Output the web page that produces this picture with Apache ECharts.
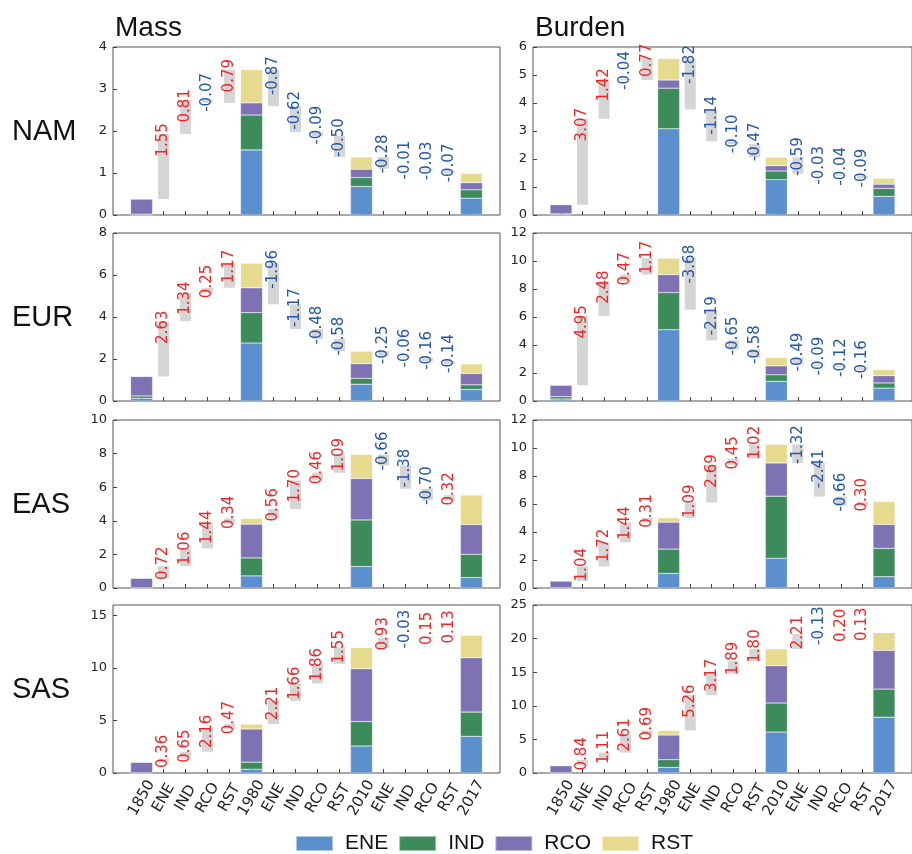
<!DOCTYPE html>
<html>
<head>
<meta charset="utf-8">
<script src="https://cdn.jsdelivr.net/npm/echarts@6/dist/echarts.min.js"></script>
<style>
  html, body { margin: 0; padding: 0; background: #fff; }
  #chart { width: 912px; height: 854px; }
</style>
</head>
<body>
<div id="chart"></div>
<script>
// categories along every x axis
var categories = ['1850','ENE','IND','RCO','RST','1980','ENE','IND','RCO','RST','2010','ENE','IND','RCO','RST','2017'];
var years = ['1850','1980','2010','2017'];
var sectors = ['ENE','IND','RCO','RST'];
var regions = ['NAM','EUR','EAS','SAS'];
var columns = ['Mass','Burden'];

// y axis ticks / limits per row
var yTicksMass   = [[0,1,2,3,4],[0,2,4,6,8],[0,2,4,6,8,10],[0,5,10,15]];
var yMaxMass     = [4, 8, 10, 16];
var yTicksBurden = [[0,1,2,3,4,5,6],[0,2,4,6,8,10,12],[0,2,4,6,8,10,12],[0,5,10,15,20,25]];
var yMaxBurden   = [6, 12, 12, 25];

// NAM - Mass  (values at 1850, 1980, 2010, 2017)
var NAM_Mass_ENE = [0.00, 1.55, 0.68, 0.40];
var NAM_Mass_IND = [0.02, 0.83, 0.21, 0.20];
var NAM_Mass_RCO = [0.36, 0.29, 0.20, 0.17];
var NAM_Mass_RST = [0.00, 0.79, 0.29, 0.22];
var NAM_Mass_chg = [1.55, 0.81, -0.07, 0.79, -0.87, -0.62, -0.09, -0.50, -0.28, -0.01, -0.03, -0.07];
// NAM - Burden
var NAM_Burden_ENE = [0.01, 3.08, 1.26, 0.67];
var NAM_Burden_IND = [0.03, 1.45, 0.31, 0.28];
var NAM_Burden_RCO = [0.33, 0.29, 0.19, 0.15];
var NAM_Burden_RST = [0.00, 0.77, 0.30, 0.21];
var NAM_Burden_chg = [3.07, 1.42, -0.04, 0.77, -1.82, -1.14, -0.10, -0.47, -0.59, -0.03, -0.04, -0.09];
// EUR - Mass
var EUR_Mass_ENE = [0.13, 2.76, 0.80, 0.55];
var EUR_Mass_IND = [0.11, 1.45, 0.28, 0.22];
var EUR_Mass_RCO = [0.93, 1.18, 0.70, 0.54];
var EUR_Mass_RST = [0.00, 1.17, 0.59, 0.45];
var EUR_Mass_chg = [2.63, 1.34, 0.25, 1.17, -1.96, -1.17, -0.48, -0.58, -0.25, -0.06, -0.16, -0.14];
// EUR - Burden
var EUR_Burden_ENE = [0.14, 5.09, 1.41, 0.92];
var EUR_Burden_IND = [0.17, 2.65, 0.46, 0.37];
var EUR_Burden_RCO = [0.82, 1.29, 0.64, 0.52];
var EUR_Burden_RST = [0.00, 1.17, 0.59, 0.43];
var EUR_Burden_chg = [4.95, 2.48, 0.47, 1.17, -3.68, -2.19, -0.65, -0.58, -0.49, -0.09, -0.12, -0.16];
// EAS - Mass
var EAS_Mass_ENE = [0.00, 0.72, 1.28, 0.62];
var EAS_Mass_IND = [0.01, 1.07, 2.77, 1.39];
var EAS_Mass_RCO = [0.57, 2.01, 2.47, 1.77];
var EAS_Mass_RST = [0.00, 0.34, 1.43, 1.75];
var EAS_Mass_chg = [0.72, 1.06, 1.44, 0.34, 0.56, 1.70, 0.46, 1.09, -0.66, -1.38, -0.70, 0.32];
// EAS - Burden
var EAS_Burden_ENE = [0.00, 1.04, 2.13, 0.81];
var EAS_Burden_IND = [0.02, 1.74, 4.43, 2.02];
var EAS_Burden_RCO = [0.48, 1.92, 2.37, 1.71];
var EAS_Burden_RST = [0.00, 0.31, 1.33, 1.63];
var EAS_Burden_chg = [1.04, 1.72, 1.44, 0.31, 1.09, 2.69, 0.45, 1.02, -1.32, -2.41, -0.66, 0.30];
// SAS - Mass
var SAS_Mass_ENE = [0.00, 0.36, 2.57, 3.50];
var SAS_Mass_IND = [0.02, 0.67, 2.33, 2.30];
var SAS_Mass_RCO = [1.00, 3.16, 5.02, 5.17];
var SAS_Mass_RST = [0.00, 0.47, 2.02, 2.15];
var SAS_Mass_chg = [0.36, 0.65, 2.16, 0.47, 2.21, 1.66, 1.86, 1.55, 0.93, -0.03, 0.15, 0.13];
// SAS - Burden
var SAS_Burden_ENE = [0.00, 0.84, 6.10, 8.31];
var SAS_Burden_IND = [0.03, 1.14, 4.31, 4.18];
var SAS_Burden_RCO = [1.06, 3.67, 5.56, 5.76];
var SAS_Burden_RST = [0.00, 0.69, 2.49, 2.62];
var SAS_Burden_chg = [0.84, 1.11, 2.61, 0.69, 5.26, 3.17, 1.89, 1.80, 2.21, -0.13, 0.20, 0.13];

var panels = [
  {row: 0, col: 0, parts: [NAM_Mass_ENE, NAM_Mass_IND, NAM_Mass_RCO, NAM_Mass_RST], chg: NAM_Mass_chg},
  {row: 0, col: 1, parts: [NAM_Burden_ENE, NAM_Burden_IND, NAM_Burden_RCO, NAM_Burden_RST], chg: NAM_Burden_chg},
  {row: 1, col: 0, parts: [EUR_Mass_ENE, EUR_Mass_IND, EUR_Mass_RCO, EUR_Mass_RST], chg: EUR_Mass_chg},
  {row: 1, col: 1, parts: [EUR_Burden_ENE, EUR_Burden_IND, EUR_Burden_RCO, EUR_Burden_RST], chg: EUR_Burden_chg},
  {row: 2, col: 0, parts: [EAS_Mass_ENE, EAS_Mass_IND, EAS_Mass_RCO, EAS_Mass_RST], chg: EAS_Mass_chg},
  {row: 2, col: 1, parts: [EAS_Burden_ENE, EAS_Burden_IND, EAS_Burden_RCO, EAS_Burden_RST], chg: EAS_Burden_chg},
  {row: 3, col: 0, parts: [SAS_Mass_ENE, SAS_Mass_IND, SAS_Mass_RCO, SAS_Mass_RST], chg: SAS_Mass_chg},
  {row: 3, col: 1, parts: [SAS_Burden_ENE, SAS_Burden_IND, SAS_Burden_RCO, SAS_Burden_RST], chg: SAS_Burden_chg}
];

var sectorColors = ['#5b8fcd', '#3d8a5b', '#7e71b4', '#e5da8e'];
var posColor = '#f02525';
var negColor = '#2257ab';
var tickFont = 'DejaVu Sans';

var colLeft = [113, 533];
var rowTop = [47, 233, 420, 605];
var gridW = 387, gridH = 168;

var yearIdx = years.map(function (y) { return categories.indexOf(y); });
var chgIdx = [];
categories.forEach(function (c, i) { if (years.indexOf(c) < 0) chgIdx.push(i); });
var allIdx = categories.map(function (c, i) { return i; });

var grids = [], xAxes = [], yAxes = [], series = [], graphics = [];

panels.forEach(function (p, k) {
  var ticks = p.col === 0 ? yTicksMass[p.row] : yTicksBurden[p.row];
  var ymax = p.col === 0 ? yMaxMass[p.row] : yMaxBurden[p.row];

  grids.push({
    left: colLeft[p.col], top: rowTop[p.row], width: gridW, height: gridH,
    show: true, borderColor: '#555', borderWidth: 1, backgroundColor: 'transparent'
  });
  // visible axis for stacked year bars
  xAxes.push({
    type: 'value', gridIndex: k, min: -1.3, max: 16.3,
    axisLine: {show: false, onZero: false}, splitLine: {show: false},
    axisTick: {show: true, inside: true, length: 4, customValues: allIdx, lineStyle: {color: '#444'}},
    axisLabel: {
      show: p.row === 3, customValues: allIdx,
      formatter: function (v) { return categories[Math.round(v)]; },
      rotate: 60, align: 'center', verticalAlign: 'middle', margin: 25,
      fontFamily: tickFont, fontSize: 15, color: '#222'
    }
  });
  // hidden twin axis for the waterfall bars (so they don't get laid out side by side)
  xAxes.push({type: 'value', gridIndex: k, min: -1.3, max: 16.3, show: false, axisLine: {onZero: false}});
  yAxes.push({
    type: 'value', gridIndex: k, min: 0, max: ymax,
    axisLine: {show: false, onZero: false}, splitLine: {show: false},
    axisTick: {show: true, inside: true, length: 4, customValues: ticks, lineStyle: {color: '#444'}},
    axisLabel: {customValues: ticks, margin: 6, fontFamily: tickFont, fontSize: 13, color: '#222'}
  });

  // stacked bars for each year; value first so the stack runs along y
  sectors.forEach(function (s, j) {
    series.push({
      name: s, type: 'bar', xAxisIndex: 2 * k, yAxisIndex: k, stack: 'yr' + k,
      encode: {x: 1, y: 0},
      barWidth: 22, silent: true,
      itemStyle: {color: sectorColors[j], borderColor: 'rgba(255,255,255,0.5)', borderWidth: 0.5},
      data: yearIdx.map(function (xi, t) { return [p.parts[j][t], xi]; })
    });
  });

  // waterfall: start from the previous year's total and walk through the changes
  var baseData = [], deltaData = [];
  for (var seg = 0; seg < 3; seg++) {
    var level = 0;
    for (var j = 0; j < 4; j++) level += p.parts[j][seg];
    for (var m = 0; m < 4; m++) {
      var c = p.chg[seg * 4 + m];
      var next = level + c;
      var xi = chgIdx[seg * 4 + m];
      baseData.push([Math.min(level, next), xi]);
      deltaData.push({value: [Math.abs(c), xi], chg: c, label: {color: c >= 0 ? posColor : negColor}});
      level = next;
    }
  }
  series.push({
    name: 'base', type: 'bar', xAxisIndex: 2 * k + 1, yAxisIndex: k, stack: 'wf' + k,
    encode: {x: 1, y: 0},
    barWidth: 11, silent: true, itemStyle: {color: 'transparent'}, data: baseData
  });
  series.push({
    name: 'delta', type: 'bar', xAxisIndex: 2 * k + 1, yAxisIndex: k, stack: 'wf' + k,
    encode: {x: 1, y: 0},
    barWidth: 11, silent: true, itemStyle: {color: '#d5d5d5'},
    label: {
      show: true, position: 'inside', rotate: 90,
      fontFamily: tickFont, fontSize: 15,
      formatter: function (pr) { return pr.data.chg.toFixed(2); }
    },
    labelLayout: function (pr) {
      var r = pr.rect;
      var top = r.y, mid = r.y + r.height / 2;
      return {
        x: r.x + r.width / 2,
        y: Math.min(mid - 9, top + 6),
        align: 'center', verticalAlign: 'middle'
      };
    },
    data: deltaData
  });
});

// column titles and row names
columns.forEach(function (t, i) {
  graphics.push({type: 'text', left: colLeft[i] + 2, top: 14,
    style: {text: t, fontFamily: 'Liberation Sans', fontSize: 28, fill: '#111'}});
});
regions.forEach(function (r, i) {
  graphics.push({type: 'text', left: 12, top: rowTop[i] + gridH / 2 - 14,
    style: {text: r, fontFamily: 'Liberation Sans', fontSize: 29, fill: '#111'}});
});

var myChart = echarts.init(document.getElementById('chart'));
var option = {
  animation: false,
  backgroundColor: '#fff',
  grid: grids,
  xAxis: xAxes,
  yAxis: yAxes,
  legend: {
    data: sectors, left: 290, top: 828, icon: 'rect',
    itemWidth: 37, itemHeight: 15, itemGap: 10,
    textStyle: {fontFamily: 'Liberation Sans', fontSize: 21, color: '#111', width: 50, padding: [0, 0, 0, 7]}
  },
  graphic: graphics,
  series: series
};
myChart.setOption(option);
</script>
</body>
</html>
